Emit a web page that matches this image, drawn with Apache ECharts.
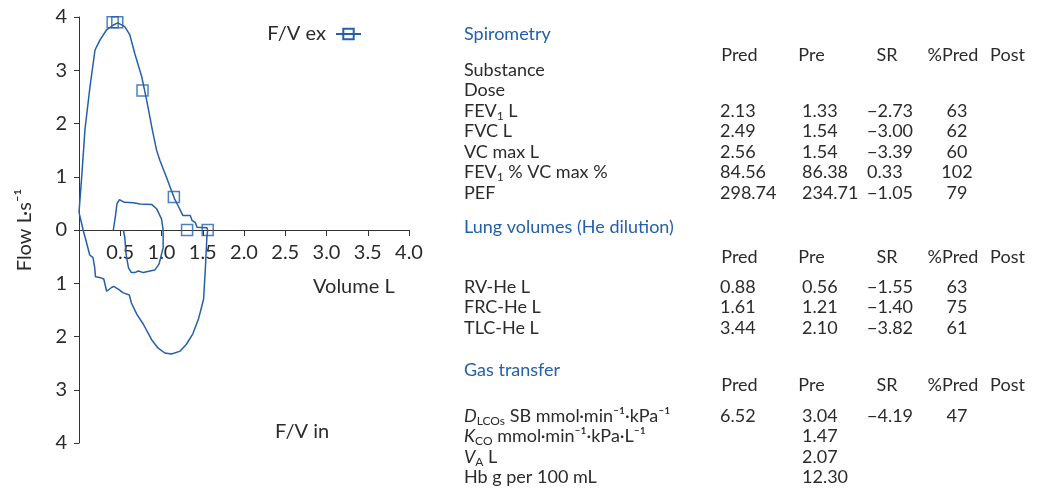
<!DOCTYPE html>
<html>
<head>
<meta charset="utf-8">
<script src="https://cdn.jsdelivr.net/npm/echarts@6.0.0/dist/echarts.min.js"></script>
<style>
  html, body { margin: 0; padding: 0; background: #fff; }
  #main { width: 1041px; height: 489px; }
</style>
</head>
<body>
<div id="main"></div>
<script>
// flow-volume loop (volume L, flow L/s)
var fvEx = [[0,0.33],[0.035,1.05],[0.073,1.90],[0.133,2.69],[0.194,3.38],[0.255,3.57],[0.335,3.76],[0.416,3.85],[0.47,3.89],[0.555,3.82],[0.615,3.67],[0.675,3.32],[0.76,2.88],[0.82,2.44],[0.89,1.87],[0.94,1.50],[0.98,1.31],[1.06,0.99],[1.12,0.74],[1.16,0.58],[1.20,0.46],[1.26,0.27],[1.35,0.27],[1.37,0.18],[1.41,0.14],[1.43,0.05],[1.55,0.04],[1.56,0]];
var fvIn = [[1.56,0],[1.55,-0.14],[1.53,-0.77],[1.51,-1.30],[1.45,-1.66],[1.38,-1.95],[1.30,-2.15],[1.22,-2.28],[1.12,-2.33],[1.04,-2.31],[0.96,-2.22],[0.88,-2.06],[0.78,-1.77],[0.70,-1.58],[0.635,-1.37],[0.61,-1.22],[0.537,-1.18],[0.476,-1.11],[0.42,-1.06],[0.395,-1.08],[0.335,-1.15],[0.30,-0.92],[0.25,-0.89],[0.20,-0.88],[0.19,-0.70],[0.17,-0.52],[0.13,-0.47],[0.09,-0.23],[0.05,0],[0,0.33]];
var tidal = [[0.416,0],[0.44,0.24],[0.46,0.49],[0.49,0.57],[0.55,0.52],[0.66,0.51],[0.74,0.49],[0.88,0.48],[0.94,0.40],[1.0,0.21],[1.02,0],[1.02,-0.33],[0.97,-0.64],[0.92,-0.75],[0.86,-0.77],[0.78,-0.80],[0.72,-0.77],[0.675,-0.80],[0.635,-0.80],[0.60,-0.71],[0.57,-0.45],[0.555,-0.14],[0.537,0]];
var exMarks = [[0.408,3.90],[0.464,3.90],[0.77,2.62],[1.15,0.62],[1.31,0],[1.56,0]];

// table
var colHeads = ['Pred','Pre','SR','%Pred','Post'];

var spiroLabels = ['Substance','Dose','FEV{s|1} L','FVC L','VC max L','FEV{s|1} % VC max %','PEF'];
var spiroPred = [null,null,2.13,2.49,2.56,84.56,298.74];
var spiroPre  = [null,null,1.33,1.54,1.54,86.38,234.71];
var spiroSR   = [null,null,-2.73,-3.00,-3.39,0.33,-1.05];
var spiroPct  = [null,null,63,62,60,102,79];

var lungLabels = ['RV-He L','FRC-He L','TLC-He L'];
var lungPred = [0.88,1.61,3.44];
var lungPre  = [0.56,1.21,2.10];
var lungSR   = [-1.55,-1.40,-3.82];
var lungPct  = [63,75,61];

var gasLabels = ['{i|D}{s|LCOs} SB mmol·min⁻¹·kPa⁻¹','{i|K}{s|CO} mmol·min⁻¹·kPa·L⁻¹','{i|V}{s|A} L','Hb g per 100 mL'];
var gasPred = [6.52,null,null,null];
var gasPre  = [3.04,1.47,2.07,12.30];
var gasSR   = [-4.19,null,null,null];
var gasPct  = [47,null,null,null];

var blue = '#2460a7';
var ink = '#2b2b2b';
var font = 'Lato';

var richSt = {
  s: { fontSize: 12, fontFamily: font, fill: ink, verticalAlign: 'bottom', lineHeight: 12 },
  i: { fontSize: 18, fontFamily: font, fill: ink, fontStyle: 'italic', lineHeight: 22 }
};

var graphics = [];
function txt(str, x, y, opt) {
  opt = opt || {};
  graphics.push({
    type: 'text', x: x, y: y, silent: true,
    style: {
      text: str, fontFamily: font, fontSize: opt.size || 18, fill: opt.color || ink,
      align: opt.align || 'left', verticalAlign: 'middle', lineHeight: 22, rich: richSt
    }
  });
}
function num(v) {
  if (v === null) return '';
  return v.toFixed(2).replace('-', '\u2212');
}

var colPred = 720, colPre = 802, colSR = 867, colPct = 957;
var headX = [739.5, 811.5, 887, 953, 1007.5];
var labelX = 464;
var rowH = 20.5;

function section(title, titleY, headY, firstY, labels, pred, pre, sr, pct) {
  txt(title, labelX, titleY, { color: blue });
  for (var h = 0; h < colHeads.length; h++) {
    txt(colHeads[h], headX[h], headY, { align: 'center' });
  }
  for (var i = 0; i < labels.length; i++) {
    var y = firstY + i * rowH;
    txt(labels[i], labelX, y);
    txt(num(pred[i]), colPred, y);
    txt(num(pre[i]), colPre, y);
    txt(num(sr[i]), colSR, y);
    txt(pct[i] === null ? '' : String(pct[i]), colPct, y, { align: 'center' });
  }
}

section('Spirometry', 34, 55, 70, spiroLabels, spiroPred, spiroPre, spiroSR, spiroPct);
section('Lung volumes (He dilution)', 227, 257, 287, lungLabels, lungPred, lungPre, lungSR, lungPct);
section('Gas transfer', 370, 385, 416, gasLabels, gasPred, gasPre, gasSR, gasPct);

txt('Volume L', 313, 287, { size: 20 });
txt('F/V in', 275, 432, { size: 20 });

var gridTop = 17, gridH = 426;

var chart = echarts.init(document.getElementById('main'));
chart.setOption({
  animation: false,
  textStyle: { fontFamily: font, color: ink },
  grid: { left: 79, top: gridTop, width: 330, height: gridH },
  legend: {
    data: ['F/V ex'],
    right: 674, top: 19,
    align: 'right',
    itemWidth: 25, itemHeight: 13,
    formatter: function (n) { return n + ' '; },
    textStyle: { fontSize: 20, color: ink, fontFamily: font }
  },
  xAxis: {
    type: 'value', min: 0, max: 4, interval: 0.5,
    // axis sits on flow = 0 (labels in v6 do not follow onZero, so shift the whole axis)
    offset: -gridH / 2,
    axisLine: { show: true, onZero: false, lineStyle: { color: '#333', width: 1 } },
    axisTick: { show: true, length: 6, lineStyle: { color: '#333' } },
    axisLabel: {
      fontSize: 20, color: ink, margin: 13, fontFamily: font,
      formatter: function (v) { return v === 0 ? '' : v.toFixed(1); }
    },
    splitLine: { show: false }
  },
  yAxis: {
    type: 'value', min: -4, max: 4, interval: 1,
    name: 'Flow L·s⁻¹', nameLocation: 'middle', nameGap: 44,
    nameTextStyle: { fontSize: 20, color: ink, fontFamily: font },
    axisLine: { show: true, onZero: false, lineStyle: { color: '#333', width: 1 } },
    axisTick: { show: true, length: 5, lineStyle: { color: '#333' } },
    axisLabel: {
      fontSize: 20, color: ink, margin: 12, fontFamily: font,
      formatter: function (v) { return String(Math.abs(v)); }
    },
    splitLine: { show: false }
  },
  series: [
    {
      name: 'F/V ex', type: 'line', data: fvEx, showSymbol: false,
      symbol: 'rect', symbolSize: 11,
      itemStyle: { color: 'rgba(255,255,255,0)', borderColor: blue, borderWidth: 1.5 },
      lineStyle: { color: blue, width: 1.5 }
    },
    {
      name: 'F/V in', type: 'line', data: fvIn, showSymbol: false,
      lineStyle: { color: blue, width: 1.5 }
    },
    {
      name: 'tidal', type: 'line', data: tidal, showSymbol: false,
      lineStyle: { color: blue, width: 1.5 }
    },
    {
      name: 'ex marks', type: 'scatter', data: exMarks,
      symbol: 'rect', symbolSize: 11, z: 5,
      itemStyle: { color: 'rgba(255,255,255,0)', borderColor: blue, borderWidth: 1.5 }
    }
  ],
  graphic: graphics
});
</script>
</body>
</html>
